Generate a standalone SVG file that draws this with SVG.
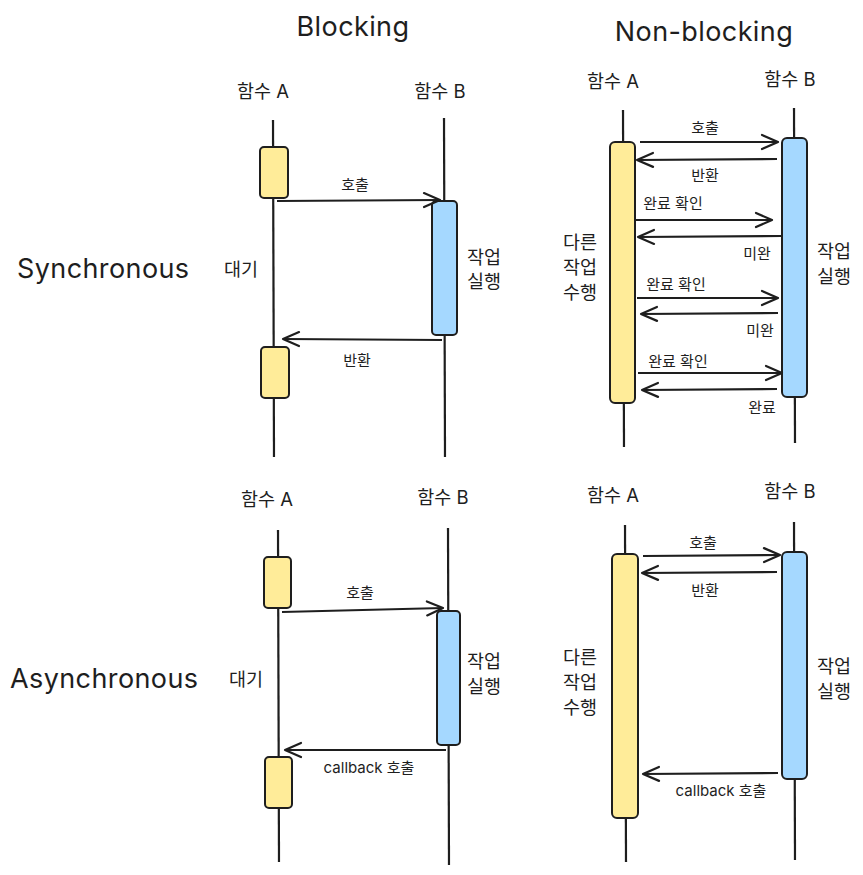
<svg xmlns="http://www.w3.org/2000/svg" width="863" height="875" viewBox="0 0 863 875">
<style>
text{font-family:"Inter","Noto Sans CJK KR","Noto Sans",sans-serif;fill:#1e1e1e}
.title{font-size:27px;letter-spacing:0.4px}
.side{font-size:27px;letter-spacing:0.4px}
.hdr{font-size:18.5px;text-anchor:middle}
.lbl{font-size:15px;text-anchor:middle}
.big{font-size:18.5px;text-anchor:middle}
.life{stroke:#1e1e1e;stroke-width:2.2;fill:none}
.ya{fill:#ffec99;stroke:#1e1e1e;stroke-width:2}
.bb{fill:#a5d8ff;stroke:#1e1e1e;stroke-width:2}
.arr{stroke:#1e1e1e;stroke-width:2.2;fill:none;marker-end:url(#ah)}
</style>
<defs>
<marker id="ah" markerUnits="userSpaceOnUse" markerWidth="30" markerHeight="30" refX="0" refY="0" viewBox="-20 -15 30 30" orient="auto" overflow="visible">
<path d="M-16,-7 L0,0 L-16,7" fill="none" stroke="#1e1e1e" stroke-width="2.2" stroke-linecap="round" stroke-linejoin="round"/>
</marker>
</defs>
<rect width="863" height="875" fill="#ffffff"/>

<g id="titles">
<text class="title" x="353" y="36" text-anchor="middle">Blocking</text>
<text class="title" x="704" y="41" text-anchor="middle">Non-blocking</text>
<text class="side" x="17" y="278">Synchronous</text>
<text class="side" x="10" y="688">Asynchronous</text>
</g>

<!-- Sync Blocking -->
<g id="sb-A">
<text class="hdr" x="263" y="98">함수 A</text>
<line class="life" x1="273" y1="120" x2="274" y2="457"/>
<rect class="ya" x="260" y="147" width="28" height="51" rx="4"/>
<rect class="ya" x="261" y="347" width="28" height="51" rx="4"/>
<text class="big" x="241" y="276">대기</text>
</g>
<g id="sb-B">
<text class="hdr" x="440" y="98">함수 B</text>
<line class="life" x1="444" y1="118" x2="445" y2="457"/>
<rect class="bb" x="432" y="201" width="25" height="134" rx="4"/>
<text class="big" x="484" y="264">작업</text>
<text class="big" x="484" y="288">실행</text>
</g>

<!-- Sync Non-blocking -->
<g id="snb-A">
<text class="hdr" x="613" y="88">함수 A</text>
<line class="life" x1="623" y1="110" x2="624" y2="447"/>
<rect class="ya" x="610" y="142" width="25" height="261" rx="5"/>
<text class="big" x="580" y="249">다른</text>
<text class="big" x="580" y="274">작업</text>
<text class="big" x="580" y="299">수행</text>
</g>
<g id="snb-B">
<text class="hdr" x="790" y="86">함수 B</text>
<line class="life" x1="794" y1="108" x2="795" y2="443"/>
<rect class="bb" x="782" y="138" width="25" height="259" rx="5"/>
<text class="big" x="834" y="258">작업</text>
<text class="big" x="834" y="283">실행</text>
</g>

<!-- Async Blocking -->
<g id="ab-A">
<text class="hdr" x="267" y="506">함수 A</text>
<line class="life" x1="278" y1="530" x2="279" y2="862"/>
<rect class="ya" x="264" y="557" width="27" height="51" rx="4"/>
<rect class="ya" x="265" y="757" width="27" height="51" rx="4"/>
<text class="big" x="246" y="686">대기</text>
</g>
<g id="ab-B">
<text class="hdr" x="443" y="504">함수 B</text>
<line class="life" x1="448" y1="528" x2="449" y2="865"/>
<rect class="bb" x="437" y="611" width="23" height="134" rx="4"/>
<text class="big" x="484" y="668">작업</text>
<text class="big" x="484" y="693">실행</text>
</g>

<!-- Async Non-blocking -->
<g id="anb-A">
<text class="hdr" x="613" y="502">함수 A</text>
<line class="life" x1="625" y1="525" x2="626" y2="862"/>
<rect class="ya" x="612" y="554" width="26" height="264" rx="5"/>
<text class="big" x="580" y="664">다른</text>
<text class="big" x="580" y="689">작업</text>
<text class="big" x="580" y="714">수행</text>
</g>
<g id="anb-B">
<text class="hdr" x="790" y="498">함수 B</text>
<line class="life" x1="794" y1="522" x2="795" y2="860"/>
<rect class="bb" x="782" y="552" width="25" height="227" rx="5"/>
<text class="big" x="834" y="673">작업</text>
<text class="big" x="834" y="698">실행</text>
</g>

<g id="connectors">
<path class="arr" d="M277,201 L440,200"/>
<path class="arr" d="M442,340 L283,339"/>
<path class="arr" d="M640,142 L778,142"/>
<path class="arr" d="M777,159 L637,160"/>
<path class="arr" d="M636,220 L772,220"/>
<path class="arr" d="M781,236 L638,237"/>
<path class="arr" d="M637,298 L778,298"/>
<path class="arr" d="M778,313 L641,314"/>
<path class="arr" d="M638,373 L782,373"/>
<path class="arr" d="M777,389 L642,390"/>
<path class="arr" d="M282,612 L443,608"/>
<path class="arr" d="M446,750 L285,750"/>
<path class="arr" d="M643,556 L780,555"/>
<path class="arr" d="M777,572 L642,573"/>
<path class="arr" d="M778,773 L643,774"/>
</g>

<g id="labels">
<text class="lbl" x="355" y="190">호출</text>
<text class="lbl" x="357" y="366">반환</text>
<text class="lbl" x="705" y="133">호출</text>
<text class="lbl" x="705" y="181">반환</text>
<text class="lbl" x="673" y="209">완료 확인</text>
<text class="lbl" x="757" y="259">미완</text>
<text class="lbl" x="676" y="290">완료 확인</text>
<text class="lbl" x="760" y="336">미완</text>
<text class="lbl" x="678" y="367">완료 확인</text>
<text class="lbl" x="762" y="413">완료</text>
<text class="lbl" x="360" y="598">호출</text>
<text class="lbl" x="369" y="773">callback 호출</text>
<text class="lbl" x="703" y="548">호출</text>
<text class="lbl" x="705" y="596">반환</text>
<text class="lbl" x="721" y="796">callback 호출</text>
</g>
</svg>
